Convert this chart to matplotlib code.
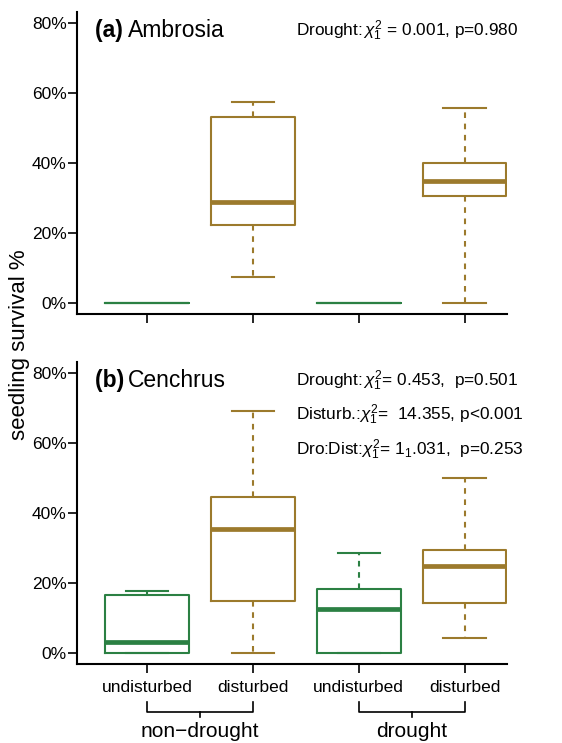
import matplotlib
matplotlib.use("Agg")
import matplotlib.pyplot as plt
import matplotlib.transforms as mtransforms

plt.rcParams['font.family'] = ['Liberation Sans', 'DejaVu Sans']
plt.rcParams['mathtext.fontset'] = 'custom'
plt.rcParams['mathtext.rm'] = 'Liberation Sans'
plt.rcParams['mathtext.it'] = 'Liberation Sans:italic'
plt.rcParams['mathtext.bf'] = 'Liberation Sans:bold'

# ---- data (percent) ----
groups = ["undisturbed", "disturbed", "undisturbed", "disturbed"]
treatments = ["non\u2212drought", "drought"]
box_colors = ["#2B8043", "#9C7A2C", "#2B8043", "#9C7A2C"]

# Ambrosia: whislo, q1, median, q3, whishi
amb_low = [0.0, 7.4, 0.0, 0.0]
amb_q1 = [0.0, 22.2, 0.0, 30.5]
amb_med = [0.0, 28.7, 0.0, 34.9]
amb_q3 = [0.0, 53.0, 0.0, 40.0]
amb_high = [0.0, 57.3, 0.0, 55.7]

# Cenchrus
cen_low = [0.0, 0.0, 0.0, 4.3]
cen_q1 = [0.0, 14.9, 0.0, 14.2]
cen_med = [3.2, 35.3, 12.5, 24.9]
cen_q3 = [16.6, 44.5, 18.2, 29.4]
cen_high = [17.7, 69.1, 28.6, 50.0]

yticks = [0, 20, 40, 60, 80]
ytick_labels = ["0%", "20%", "40%", "60%", "80%"]

amb_title = ("(a)", "Ambrosia")
cen_title = ("(b)", "Cenchrus")
amb_stats = [r"Drought:$\,\chi^2_1$ = 0.001, p=0.980"]
cen_stats = [r"Drought:$\,\chi^2_1$= 0.453,  p=0.501",
             r"Disturb.:$\chi^2_1$=  14.355, p<0.001",
             r"Dro:Dist:$\chi^2_1$= 1$_{\rm 1}$.031,  p=0.253"]

W, H = 562, 743
fig = plt.figure(figsize=(W / 100, H / 100), dpi=100)

def px_axes(left, top, right, bottom):
    return fig.add_axes([left / W, 1 - bottom / H, (right - left) / W, (bottom - top) / H])

ax_a = px_axes(77, 12, 507, 314)
ax_b = px_axes(77, 362, 507, 664)

positions = [1, 2, 3, 4]

def draw(ax, low, q1, med, q3, high, title, stats, show_xlabels):
    stats_list = []
    for i in range(4):
        stats_list.append(dict(whislo=low[i], q1=q1[i], med=med[i], q3=q3[i],
                               whishi=high[i], fliers=[]))
    art = ax.bxp(stats_list, positions=positions, widths=0.79, showfliers=False,
                 capwidths=0.4, manage_ticks=False)
    for i in range(4):
        c = box_colors[i]
        art['boxes'][i].set_color(c)
        art['boxes'][i].set_linewidth(1.5)
        flat = q1[i] == q3[i] == med[i]
        art['medians'][i].set_color(c)
        art['medians'][i].set_linewidth(1.5 if flat else 3.4)
        art['medians'][i].set_solid_capstyle('butt')
        for w in art['whiskers'][2 * i:2 * i + 2]:
            w.set_color(c)
            w.set_linewidth(1.5)
            w.set_linestyle((0, (2.7, 2.7)))
        for cp in art['caps'][2 * i:2 * i + 2]:
            cp.set_color(c)
            cp.set_linewidth(1.5)
            if flat:
                cp.set_visible(False)
        if flat:
            for w in art['whiskers'][2 * i:2 * i + 2]:
                w.set_visible(False)

    ax.set_xlim(0.34, 4.40)
    ax.set_ylim(-3.15, 83.1)
    ax.spines['top'].set_visible(False)
    ax.spines['right'].set_visible(False)
    for s in ['left', 'bottom']:
        ax.spines[s].set_linewidth(1.5)
    ax.set_yticks(yticks)
    ax.set_yticklabels(ytick_labels, fontsize=12.5)
    ax.set_xticks(positions)
    if show_xlabels:
        ax.set_xticklabels(groups, fontsize=12.5)
    else:
        ax.set_xticklabels([])
    ax.tick_params(axis='both', direction='out', length=6.5, width=1.2)
    ax.tick_params(axis='y', pad=1)
    ax.tick_params(axis='x', pad=5)

    ax.text(0.042, 0.918, title[0] + " ", transform=ax.transAxes, fontsize=16.5,
            fontweight='bold', va='baseline', ha='left')
    ax.text(0.118, 0.918, title[1], transform=ax.transAxes, fontsize=16.5,
            va='baseline', ha='left')
    ys = [0.922, 0.808, 0.693]
    for s, y in zip(stats, ys):
        ax.text(0.509, y, s, transform=ax.transAxes, fontsize=12.4, va='baseline',
                ha='left', clip_on=False)

draw(ax_a, amb_low, amb_q1, amb_med, amb_q3, amb_high, amb_title, amb_stats, False)
draw(ax_b, cen_low, cen_q1, cen_med, cen_q3, cen_high, cen_title, cen_stats, True)

# group brackets
trans = mtransforms.blended_transform_factory(ax_b.transData, ax_b.transAxes)
for (x0, x1), lab in zip([(1, 2), (3, 4)], treatments):
    ax_b.plot([x0, x0, x1, x1], [-0.126, -0.159, -0.159, -0.126], color='black',
              lw=1.2, transform=trans, clip_on=False)
    xm = (x0 + x1) / 2
    ax_b.plot([xm, xm], [-0.159, -0.176], color='black', lw=1.2, transform=trans,
              clip_on=False)
    ax_b.text(xm, -0.225, lab, transform=trans, ha='center', va='center',
              fontsize=15)

fig.text(20 / W, 1 - 345 / H, "seedling survival %", rotation=90, ha='center',
         va='center', fontsize=16)

fig.savefig("out.png", dpi=100)
